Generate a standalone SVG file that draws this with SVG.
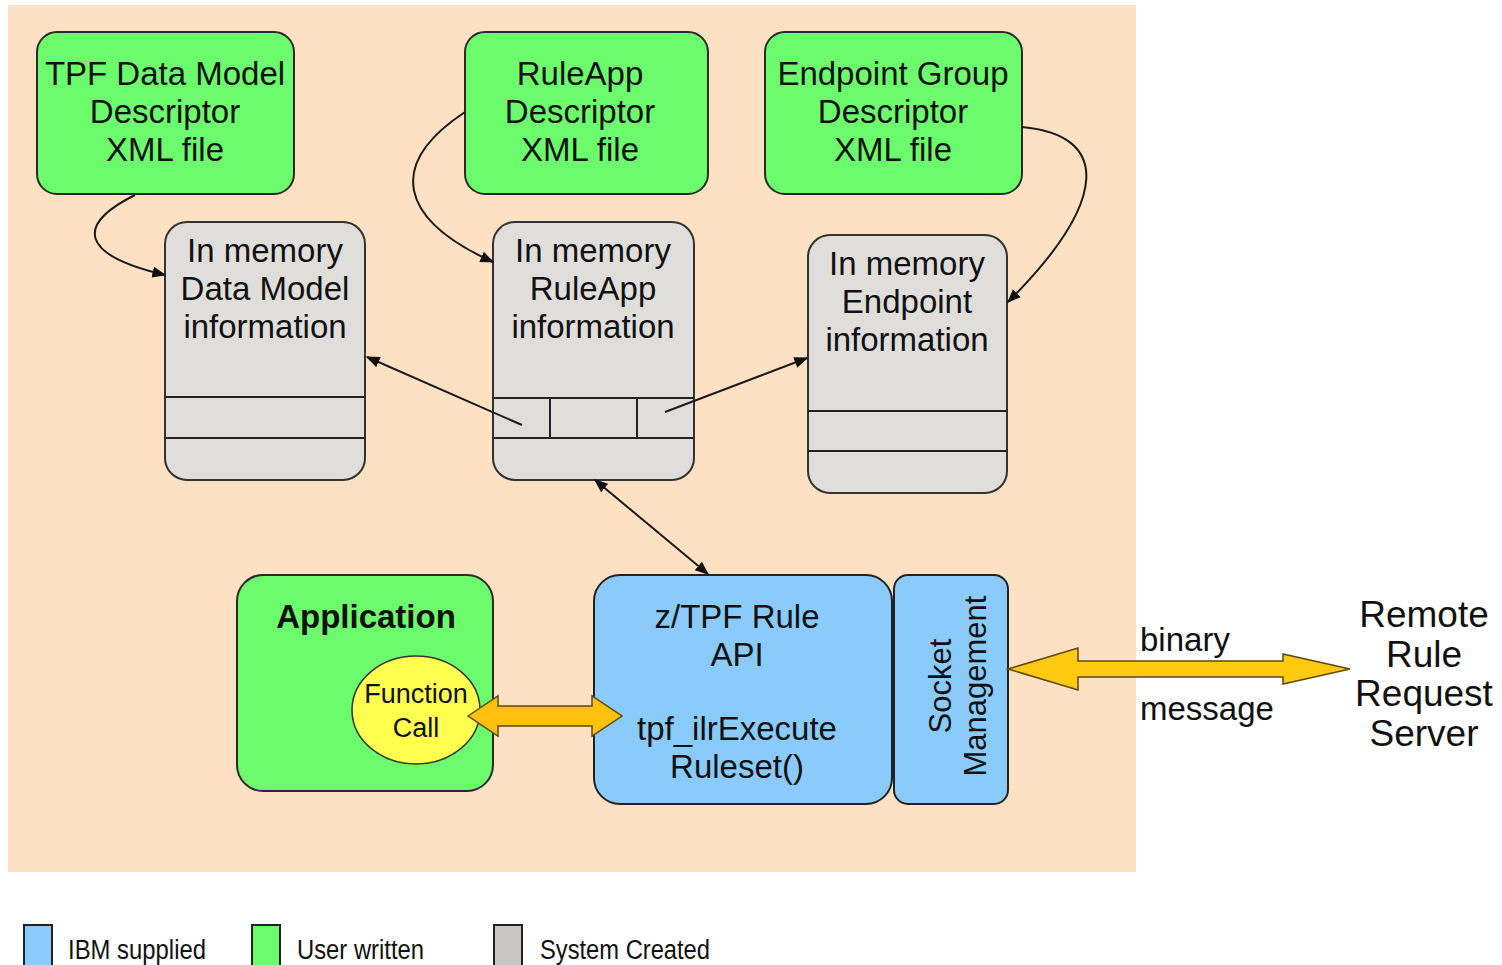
<svg xmlns="http://www.w3.org/2000/svg" width="1502" height="965" viewBox="0 0 1502 965">
<defs>
<style>
.t{font-family:"Liberation Sans",Arial,sans-serif;font-size:33px;fill:#111;text-anchor:middle}
.green{fill:#6CFB6C;stroke:#2a2a2a;stroke-width:2}
.gray{fill:#E0DEDB;stroke:#333;stroke-width:2}
.blue{fill:#8ACBFB;stroke:#222;stroke-width:2}
.div{stroke:#222;stroke-width:2;fill:none}
.conn{stroke:#1a1a1a;stroke-width:2;fill:none}
.leg{font-family:"Liberation Sans",Arial,sans-serif;font-size:27px;fill:#111}
</style>
<marker id="ah" viewBox="0 0 10 10" refX="9" refY="5" markerWidth="7" markerHeight="7" orient="auto-start-reverse" markerUnits="userSpaceOnUse">
<path d="M0,0 L10,5 L0,10 z" fill="#111"/>
</marker>
<marker id="ahs" viewBox="0 0 10 10" refX="9" refY="5" markerWidth="14" markerHeight="14" orient="auto-start-reverse" markerUnits="userSpaceOnUse">
<path d="M0,1 L10,5 L0,9 z" fill="#111"/>
</marker>
</defs>
<rect x="0" y="0" width="1502" height="965" fill="#fff"/>
<rect x="8" y="5" width="1128" height="867" fill="#FEE1C3"/>

<g id="tpf-data-model">
<rect class="green" x="37" y="32" width="257" height="162" rx="20"/>
<text class="t" x="165" y="85">TPF Data Model</text>
<text class="t" x="165" y="123">Descriptor</text>
<text class="t" x="165" y="161">XML file</text>
</g>
<g id="ruleapp-descriptor">
<rect class="green" x="465" y="32" width="243" height="162" rx="20"/>
<text class="t" x="580" y="85">RuleApp</text>
<text class="t" x="580" y="123">Descriptor</text>
<text class="t" x="580" y="161">XML file</text>
</g>
<g id="endpoint-group">
<rect class="green" x="765" y="32" width="257" height="162" rx="20"/>
<text class="t" x="893" y="85">Endpoint Group</text>
<text class="t" x="893" y="123">Descriptor</text>
<text class="t" x="893" y="161">XML file</text>
</g>

<g id="mem-data-model">
<rect class="gray" x="165" y="222" width="200" height="258" rx="22"/>
<line class="div" x1="165" y1="397" x2="365" y2="397"/>
<line class="div" x1="165" y1="438" x2="365" y2="438"/>
<text class="t" x="265" y="262">In memory</text>
<text class="t" x="265" y="300">Data Model</text>
<text class="t" x="265" y="338">information</text>
</g>
<g id="mem-ruleapp">
<rect class="gray" x="493" y="222" width="201" height="258" rx="22"/>
<line class="div" x1="493" y1="398" x2="694" y2="398"/>
<line class="div" x1="493" y1="438" x2="694" y2="438"/>
<line class="div" x1="550" y1="398" x2="550" y2="438"/>
<line class="div" x1="637" y1="398" x2="637" y2="438"/>
<text class="t" x="593" y="262">In memory</text>
<text class="t" x="593" y="300">RuleApp</text>
<text class="t" x="593" y="338">information</text>
</g>
<g id="mem-endpoint">
<rect class="gray" x="808" y="235" width="199" height="258" rx="22"/>
<line class="div" x1="808" y1="411" x2="1007" y2="411"/>
<line class="div" x1="808" y1="451" x2="1007" y2="451"/>
<text class="t" x="907" y="275">In memory</text>
<text class="t" x="907" y="313">Endpoint</text>
<text class="t" x="907" y="351">information</text>
</g>

<g id="application">
<rect class="green" x="237" y="575" width="256" height="216" rx="26"/>
<text class="t" x="366" y="628" style="font-weight:bold">Application</text>
</g>
<g id="function-call">
<ellipse cx="416" cy="710" rx="64" ry="54" fill="#FFFF50" stroke="#333" stroke-width="1.5"/>
<text class="t" x="416" y="703" style="font-size:27px">Function</text>
<text class="t" x="416" y="737" style="font-size:27px">Call</text>
</g>

<g id="rule-api">
<rect class="blue" x="594" y="575" width="298" height="229" rx="26"/>
<text class="t" x="737" y="628">z/TPF Rule</text>
<text class="t" x="737" y="666">API</text>
<text class="t" x="737" y="740">tpf_ilrExecute</text>
<text class="t" x="737" y="778">Ruleset()</text>
</g>
<g id="socket-management">
<rect class="blue" x="894" y="575" width="114" height="229" rx="14"/>
<text class="t" x="951" y="686" transform="rotate(-90 951 686)" style="font-size:31px">Socket</text>
<text class="t" x="986" y="686" transform="rotate(-90 986 686)" style="font-size:31px">Management</text>
</g>

<g id="remote-server">
<text class="t" x="1424" y="627" style="font-size:37px">Remote</text>
<text class="t" x="1424" y="667" style="font-size:37px">Rule</text>
<text class="t" x="1424" y="706" style="font-size:37px">Request</text>
<text class="t" x="1424" y="746" style="font-size:37px">Server</text>
</g>

<g id="connectors">
<path class="conn" d="M135,195 C75,225 80,255 165,275" marker-end="url(#ahs)"/>
<path class="conn" d="M465,112 C385,165 400,220 493,262" marker-end="url(#ahs)"/>
<path class="conn" d="M1022,127 C1110,135 1110,200 1008,302" marker-end="url(#ahs)"/>
<path class="conn" d="M522,425 L367,357" marker-end="url(#ahs)"/>
<path class="conn" d="M665,412 L807,358" marker-end="url(#ahs)"/>
<path class="conn" d="M595,480 L708,574" marker-start="url(#ahs)" marker-end="url(#ahs)"/>
<path d="M468,716 L498,696 L498,706 L592,706 L592,696 L622,716 L592,736 L592,726 L498,726 L498,736 Z" fill="#FFC010" stroke="#5a4a10" stroke-width="1.5"/>
<path d="M1008,669 L1078,648 L1078,661 L1283,661 L1283,654 L1350,669 L1283,684 L1283,677 L1078,677 L1078,690 Z" fill="#FFCA10" stroke="#5a4a10" stroke-width="1.5"/>
<text class="t" x="1140" y="651" style="text-anchor:start">binary</text>
<text class="t" x="1140" y="720" style="text-anchor:start">message</text>
</g>

<g id="legend">
<rect x="24" y="925" width="28" height="45" fill="#8ACBFB" stroke="#222" stroke-width="2"/>
<text class="leg" x="68" y="959" textLength="138" lengthAdjust="spacingAndGlyphs">IBM supplied</text>
<rect x="252" y="925" width="28" height="45" fill="#6CFB6C" stroke="#222" stroke-width="2"/>
<text class="leg" x="297" y="959" textLength="127" lengthAdjust="spacingAndGlyphs">User written</text>
<rect x="494" y="925" width="28" height="45" fill="#C8C6C2" stroke="#222" stroke-width="2"/>
<text class="leg" x="540" y="959" textLength="170" lengthAdjust="spacingAndGlyphs">System Created</text>
</g>
</svg>
